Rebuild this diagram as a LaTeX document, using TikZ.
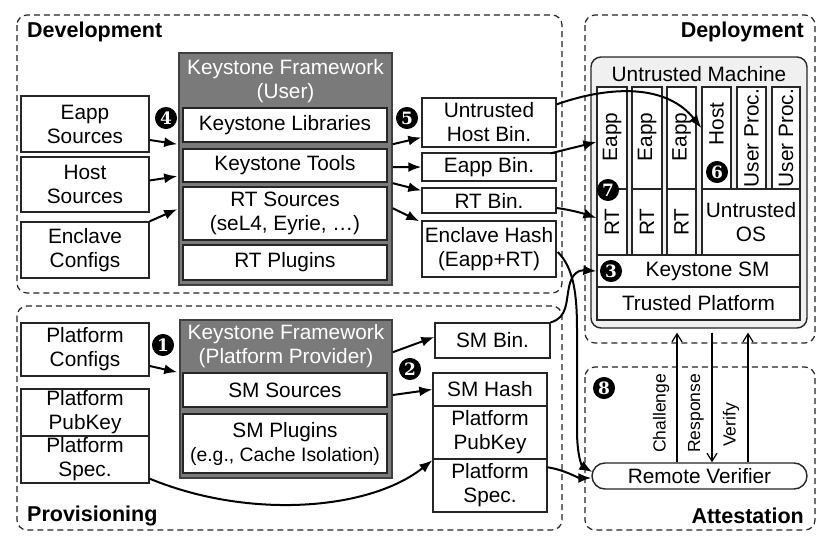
\documentclass[tikz,border=0pt]{standalone}
\usepackage{fontspec}
\setmainfont{Liberation Sans}
\newfontfamily\numfont{DejaVu Serif}
\usetikzlibrary{arrows.meta,calc}
\begin{document}
\begin{tikzpicture}[x=1pt,y=-1pt,
  every node/.style={font=\fontsize{20.8}{24}\selectfont, align=center, inner sep=0pt},
  box/.style={draw=black!85, line width=1.4pt, fill=white, rectangle},
  colbox/.style={draw=black!85, line width=1.3pt, fill=white, rectangle, minimum width=30pt},
  region/.style={draw=black!85, dash pattern=on 6pt off 4pt, line width=1.2pt, rounded corners=10pt},
  fw/.style={draw=black!75, line width=1.6pt, fill=black!52, rectangle},
  fwtext/.style={text=white},
  arr/.style={-{Latex[length=13pt,width=10pt]}, line width=2pt},
  oarr/.style={-{Straight Barb[length=8pt,width=10pt]}, line width=1.2pt},
  num/.style={circle, fill=black, draw=black, line width=1pt, text=white, minimum size=21pt, font=\numfont\bfseries\fontsize{17}{17}\selectfont},
  lbl/.style={font=\bfseries\fontsize{21.5}{24}\selectfont},
  vlbl/.style={rotate=90, anchor=west, font=\fontsize{17.5}{20}\selectfont},
]
\fill[white] (0,0) rectangle (830,546);
\useasboundingbox (0,0) rectangle (830,546);

% regions
\draw[region] (17,15) rectangle (562,293);
\draw[region] (17,306) rectangle (562,530);
\draw[region] (585,15) rectangle (815,343);
\draw[region] (585,367) rectangle (815,530);
\node[lbl, anchor=west] (ldev) at (27,32) {Development};
\node[lbl, anchor=west] (lprov) at (27,516) {Provisioning};
\node[lbl, anchor=east] (ldep) at (804,32) {Deployment};
\node[lbl, anchor=east] (latt) at (804,516) {Attestation};

% ---------- Development ----------
\node[box, minimum width=128pt, minimum height=56pt] (eappsrc) at (85,124) {Eapp\\Sources};
\node[box, minimum width=128pt, minimum height=55pt] (hostsrc) at (85,184.5) {Host\\Sources};
\node[box, minimum width=128pt, minimum height=56pt] (enclcfg) at (85,250) {Enclave\\Configs};

\node[fw, minimum width=213pt, minimum height=232pt] (fwuser) at (285.5,169) {};
\node[fwtext] (fwuserh) at (285.5,81) {Keystone Framework\\(User)};
\node[box, minimum width=204pt, minimum height=34pt] (klib) at (285,125) {Keystone Libraries};
\node[box, minimum width=204pt, minimum height=33pt] (ktools) at (285,165.5) {Keystone Tools};
\node[box, minimum width=204pt, minimum height=53pt] (rtsrc) at (285,213.5) {RT Sources\\(seL4, Eyrie, …)};
\node[box, minimum width=204pt, minimum height=35pt] (rtplug) at (285,262.5) {RT Plugins};

\node[box, minimum width=134pt, minimum height=49pt] (uhbin) at (489,122.5) {Untrusted\\Host Bin.};
\node[box, minimum width=134pt, minimum height=28pt] (eappbin) at (489,167) {Eapp Bin.};
\node[box, minimum width=134pt, minimum height=25pt] (rtbin) at (489,200.5) {RT Bin.};
\node[box, minimum width=134pt, minimum height=56pt] (ehash) at (489,249) {Enclave Hash\\(Eapp+RT)};

% ---------- Provisioning ----------
\node[box, minimum width=128pt, minimum height=53pt] (platcfg) at (85,349.5) {Platform\\Configs};
\node[box, minimum width=128pt, minimum height=47pt] (platpub) at (85,412.5) {Platform\\PubKey};
\node[box, minimum width=128pt, minimum height=47pt] (platspec) at (85,459.5) {Platform\\Spec.};

\node[fw, minimum width=212pt, minimum height=158pt] (fwprov) at (286,399) {};
\node[fwtext] (fwprovh) at (286,346) {Keystone Framework\\(Platform Provider)};
\node[box, minimum width=204pt, minimum height=34pt] (smsrc) at (285,390) {SM Sources};
\node[box, minimum width=204pt, minimum height=59pt] (smplug) at (285,443.5) {SM Plugins\\{\fontsize{19.4}{24}\selectfont (e.g., Cache Isolation)}};

\node[box, minimum width=115pt, minimum height=35pt] (smbin) at (492.5,340.5) {SM Bin.};
\node[box, minimum width=114pt, minimum height=33pt] (smhash) at (490,389.5) {SM Hash};
\node[box, minimum width=114pt, minimum height=53pt] (ppub) at (490,432.5) {Platform\\PubKey};
\node[box, minimum width=114pt, minimum height=53pt] (pspec) at (490,485.5) {Platform\\Spec.};

% ---------- Deployment ----------
\node[draw=black!85, line width=1.4pt, fill=black!6, rounded corners=10pt, minimum width=216pt, minimum height=271pt] (machine) at (699,192.5) {};
\node (mtitle) at (699,74) {Untrusted Machine};
\node[colbox, minimum height=102pt] (eapp1) at (612,138) {};
\node[colbox, minimum height=102pt] (eapp2) at (647,138) {};
\node[colbox, minimum height=102pt, minimum width=29pt] (eapp3) at (681.5,138) {};
\node[colbox, minimum height=66pt] (rt1) at (612,222) {};
\node[colbox, minimum height=66pt] (rt2) at (647,222) {};
\node[colbox, minimum height=66pt, minimum width=29pt] (rt3) at (681.5,222) {};
\node[colbox, minimum height=102pt, minimum width=29pt] (hostc) at (716.5,138) {};
\node[colbox, minimum height=102pt, minimum width=29pt] (up1) at (751.5,138) {};
\node[colbox, minimum height=102pt, minimum width=28pt] (up2) at (786,138) {};
\node[colbox, minimum height=66pt, minimum width=98pt] (uos) at (751,222) {Untrusted\\OS};
\node[colbox, minimum height=32pt, minimum width=203pt] (ksm) at (698.5,271) {\hspace{18pt}Keystone SM};
\node[colbox, minimum height=33pt, minimum width=203pt] (tplat) at (698.5,303.5) {Trusted Platform};

\node[rotate=90] (teapp1) at (612,137) {Eapp};
\node[rotate=90] (teapp2) at (647,137) {Eapp};
\node[rotate=90] (teapp3) at (681.5,137) {Eapp};
\node[rotate=90] (trt1) at (612,222) {RT};
\node[rotate=90] (trt2) at (647,222) {RT};
\node[rotate=90] (trt3) at (681.5,222) {RT};
\node[rotate=90] (thost) at (716.5,124) {Host};
\node[rotate=90] (tup1) at (751.5,138) {User Proc.};
\node[rotate=90] (tup2) at (786,138) {User Proc.};

% ---------- Attestation ----------
\node[draw=black!85, line width=1.4pt, fill=white, rounded corners=13pt, minimum width=215pt, minimum height=26pt] (rv) at (699.5,476) {Remote Verifier};
\coordinate (xch) at (677,0);
\coordinate (xre) at (712,0);
\coordinate (xve) at (748,0);
\draw[oarr] (rv.north -| xch) -- ($(machine.south -| xch)+(0,4)$);
\draw[oarr] ($(machine.south -| xre)+(0,4)$) -- (rv.north -| xre);
\draw[oarr] (rv.north -| xve) -- ($(machine.south -| xve)+(0,4)$);
\node[vlbl] (tch) at (661,453) {Challenge};
\node[vlbl] (tre) at (696,453) {Response};
\node[vlbl] (tve) at (731,447) {Verify};

% ---------- connectors ----------
\draw[arr] ($(eappsrc.east)+(0,16)$) -- ($(fwuser.north west)+(-1,92)$);
\draw[arr] ($(hostsrc.east)+(0,-4)$) -- ($(fwuser.north west)+(-1,124)$);
\draw[arr] (enclcfg.north east) -- ($(fwuser.north west)+(-1,157)$);

\draw[arr] ($(fwuser.north east)+(0,92)$) -- ($(uhbin.west)+(0,15)$);
\draw[arr] ($(fwuser.north east)+(0,115)$) -- (eappbin.west);
\draw[arr] ($(fwuser.north east)+(0,131)$) -- ($(rtbin.west)+(0,-10)$);
\draw[arr] ($(fwuser.north east)+(0,156)$) -- ($(ehash.north west)+(-2,1)$);

\draw[arr] ($(uhbin.north east)+(0,7)$) .. controls (615,84) and (668,86) .. ($(hostc.west)+(0,-10)$);
\draw[arr] ($(eappbin.north east)+(-6,1)$) -- ($(eapp1.west)+(0,4)$);
\draw[arr] ($(rtbin.east)+(0,7.5)$) .. controls (572,210) and (585,214) .. ($(rt1.west)+(0,-4)$);
\draw[arr] ($(ehash.east)+(1,3)$) .. controls (574,268) and (577,295) .. (577,330) -- (577,430) .. controls (577,456) and (582,466) .. ($(rv.west)+(1,-4)$);
\draw[arr] (smbin.north east) .. controls (568,318) and (566,300) .. (569,287) .. controls (572,272) and (580,270) .. (ksm.west);

\draw[arr] ($(platcfg.east)+(0,16.5)$) -- ($(fwprov.north west)+(-2,53)$);
\draw[arr] ($(fwprov.north east)+(0,33)$) -- ($(smbin.west)+(0,-3.5)$);
\draw[arr] ($(smsrc.east -| fwprov.east)+(0,5)$) -- (smhash.west);
\draw[arr] ($(platspec.south east)+(0,-5)$) .. controls (250,520) and (370,510) .. ($(pspec.north west)+(0,2)$);
\draw[arr] ($(pspec.north east)+(0,9)$) .. controls (565,470) and (578,478) .. ($(rv.west)+(0,2)$);

% ---------- step numbers ----------
\node[num] (n1) at (163,345) {1};
\node[num] (n2) at (410,369) {2};
\node[num] (n3) at (611,271) {3};
\node[num] (n4) at (166,118) {4};
\node[num] (n5) at (407,118) {5};
\node[num] (n6) at (717,172) {6};
\node[num] (n7) at (608,190) {7};
\node[num] (n8) at (604,388) {8};
\end{tikzpicture}
\end{document}
